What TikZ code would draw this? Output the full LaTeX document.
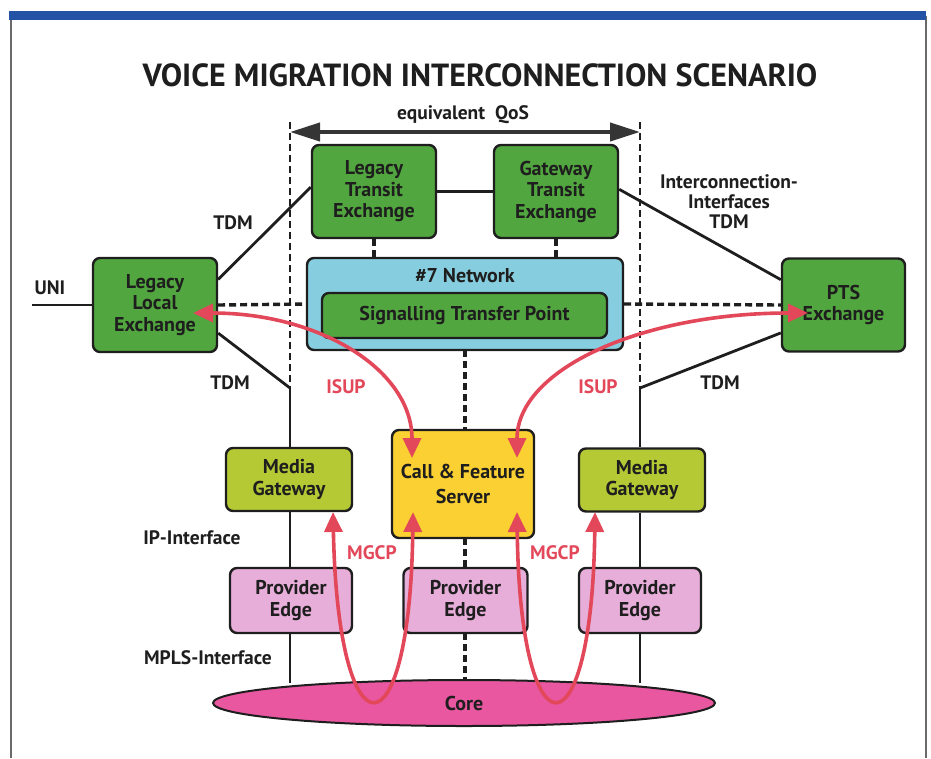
\documentclass[tikz,border=0pt]{standalone}
\usepackage{fontspec}
\setmainfont{PT Sans}
\usetikzlibrary{arrows.meta,calc,shapes.geometric}

\definecolor{framegray}{HTML}{6A6A6A}
\definecolor{barblue}{HTML}{2452A4}
\definecolor{inkdark}{HTML}{1E1E1E}
\definecolor{exgreen}{HTML}{52A63F}
\definecolor{netcyan}{HTML}{86CEDF}
\definecolor{mgolive}{HTML}{B5C935}
\definecolor{cfsyellow}{HTML}{FBD033}
\definecolor{pepink}{HTML}{E8AEDA}
\definecolor{coremag}{HTML}{E8579F}
\definecolor{sigred}{HTML}{E2485A}

\tikzset{
  box/.style={draw=inkdark, line width=2.4pt, rounded corners=7pt, align=center,
    text=inkdark, font=\fontsize{20}{21.5}\selectfont\bfseries, inner sep=0pt},
  exbox/.style={box, fill=exgreen},
  netbox/.style={box, fill=netcyan},
  mgbox/.style={box, fill=mgolive},
  cfsbox/.style={box, fill=cfsyellow},
  pebox/.style={box, fill=pepink},
  lbl/.style={text=inkdark, font=\fontsize{19.5}{20}\selectfont\bfseries, align=center, inner sep=0pt},
  redlbl/.style={lbl, text=sigred},
  trunk/.style={draw=inkdark, line width=2.8pt},
  sigdash/.style={draw=inkdark, line width=3.4pt, dash pattern=on 7pt off 4pt},
  bounddash/.style={draw=inkdark, line width=2pt, dash pattern=on 7pt off 4pt},
  redarrow/.style={draw=sigred, line width=3.6pt,
    {Triangle[length=20pt,width=18pt]}-{Triangle[length=20pt,width=18pt]}},
}

\begin{document}
\begin{tikzpicture}[x=1pt,y=-1pt]
\useasboundingbox (0,0) rectangle (931,758);

% page frame and top bar
\draw[framegray, line width=1.4pt] (11,16) -- (11,758);
\draw[framegray, line width=1.4pt] (926,16) -- (926,758);
\fill[barblue] (9,11) rectangle (926,20);

% title and QoS span
\node[lbl, font=\fontsize{32}{36}\selectfont\bfseries] (title) at (480,75)
  {VOICE MIGRATION INTERCONNECTION SCENARIO};
\node[lbl] (qos) at (463,115) {equivalent\ \ QoS};

\coordinate (qosL) at (290,132);
\coordinate (qosR) at (640,132);
\draw[inkdark!90, line width=4pt,
  {Triangle[length=30pt,width=18pt]}-{Triangle[length=30pt,width=18pt]}] (qosL) -- (qosR);

% core ellipse
\node[draw=inkdark, line width=2pt, fill=coremag, ellipse, minimum width=502pt,
  minimum height=46pt, inner sep=0pt, font=\fontsize{20}{21}\selectfont\bfseries,
  text=inkdark] (core) at (464,703) {Core};

% exchanges
\node[exbox, minimum width=124pt, minimum height=93pt] (ltx) at (374,191.5) {Legacy\\Transit\\Exchange};
\node[exbox, minimum width=124pt, minimum height=93pt] (gtx) at (556,191.5) {Gateway\\Transit\\Exchange};
\node[exbox, minimum width=124pt, minimum height=94pt] (lle) at (155,305) {Legacy\\Local\\Exchange};
\node[exbox, minimum width=123pt, minimum height=93pt] (pts) at (843.5,305) {PTS\\Exchange};

% signalling network
\node[netbox, minimum width=316pt, minimum height=92pt] (net) at (465,304) {};
\node[lbl, font=\fontsize{20}{21}\selectfont\bfseries] (netlbl) at (465,276) {\#7 Network};
\node[exbox, minimum width=285pt, minimum height=45pt] (stp) at (464.5,315.5) {Signalling Transfer Point};

% media layer
\node[cfsbox, minimum width=142pt, minimum height=108pt, font=\fontsize{20}{25}\selectfont\bfseries] (cfs) at (463,484) {Call \& Feature\\Server};
\node[mgbox, minimum width=126pt, minimum height=63pt] (mgL) at (289,479.5) {Media\\Gateway};
\node[mgbox, minimum width=126pt, minimum height=63pt] (mgR) at (642,480) {Media\\Gateway};
\node[pebox, minimum width=122pt, minimum height=65pt] (peL) at (291,600.5) {Provider\\Edge};
\node[pebox, minimum width=124pt, minimum height=65pt] (peM) at (465.5,600.5) {Provider\\Edge};
\node[pebox, minimum width=122pt, minimum height=65pt] (peR) at (640,600.5) {Provider\\Edge};

% junction points on the boundary lines
\coordinate (jL) at (290,388);
\coordinate (jR) at (640,388);
\coordinate (dTopL) at (290,122);
\coordinate (dTopR) at (640,122);
\coordinate (uni) at (32,305);

% boundary lines: dashed above the junctions
\draw[bounddash] (dTopL) -- (jL);
\draw[bounddash] (dTopR) -- (jR);

% TDM trunks
\draw[trunk] (uni) -- (lle.west);
\draw[trunk] (lle.22) -- (ltx.176);
\draw[trunk] (ltx.east) -- (gtx.west);
\draw[trunk] (gtx.2) -- (pts.158);
\draw[trunk] (lle.-24) -- (jL);
\draw[trunk] (pts.204) -- (jR);

% vertical media paths
\draw[trunk] (jL) -- (jL |- mgL.north);
\draw[trunk] (jL |- mgL.south) -- (jL |- peL.north);
\draw[trunk] (jL |- peL.south) -- (290,683);
\draw[trunk] (jR) -- (jR |- mgR.north);
\draw[trunk] (jR |- mgR.south) -- (jR |- peR.north);
\draw[trunk] (jR |- peR.south) -- (640,683);

% signalling links
\draw[sigdash] (ltx.south) -- (ltx.south |- net.north);
\draw[sigdash] (gtx.south) -- (gtx.south |- net.north);
\draw[sigdash] (lle.east) -- (net.west);
\draw[sigdash] (net.east) -- (pts.west);
\draw[sigdash] (465,350) -- (465,430);
\draw[sigdash] (465,538) -- (465,568);
\draw[sigdash] (465,633) -- (465,681);

% labels
\node[lbl] (unilbl) at (50,288) {UNI};
\node[lbl] (tdm1) at (233,223) {TDM};
\node[lbl] (tdm2) at (230,383) {TDM};
\node[lbl] (tdm3) at (720,383) {TDM};
\node[lbl] (icif) at (729,202) {Interconnection-\\Interfaces\\TDM};
\node[lbl] (iplbl) at (192,538) {IP-Interface};
\node[lbl] (mplslbl) at (208,658) {MPLS-Interface};
\node[redlbl] (isupL) at (346,387) {ISUP};
\node[redlbl] (isupR) at (598,387) {ISUP};
\node[redlbl] (mgcpL) at (372,553) {MGCP};
\node[redlbl] (mgcpR) at (555,553) {MGCP};

% control-plane arrows
\coordinate (aLLE) at (193,313);
\coordinate (aPTS) at (808,313);
\coordinate (aCfsTL) at (412,458);
\coordinate (aCfsTR) at (517,458);
\coordinate (aCfsBL) at (413,512);
\coordinate (aCfsBR) at (517,512);
\coordinate (aMgL) at (333,512);
\coordinate (aMgR) at (595,512);

\draw[redarrow] (aLLE) .. controls (320,313) and (412,370) .. (aCfsTL);
\draw[redarrow] (aCfsTR) .. controls (517,370) and (640,313) .. (aPTS);
\draw[redarrow] (aMgL) .. controls (338,760) and (410,760) .. (aCfsBL);
\draw[redarrow] (aCfsBR) .. controls (520,760) and (592,760) .. (aMgR);
\end{tikzpicture}
\end{document}
